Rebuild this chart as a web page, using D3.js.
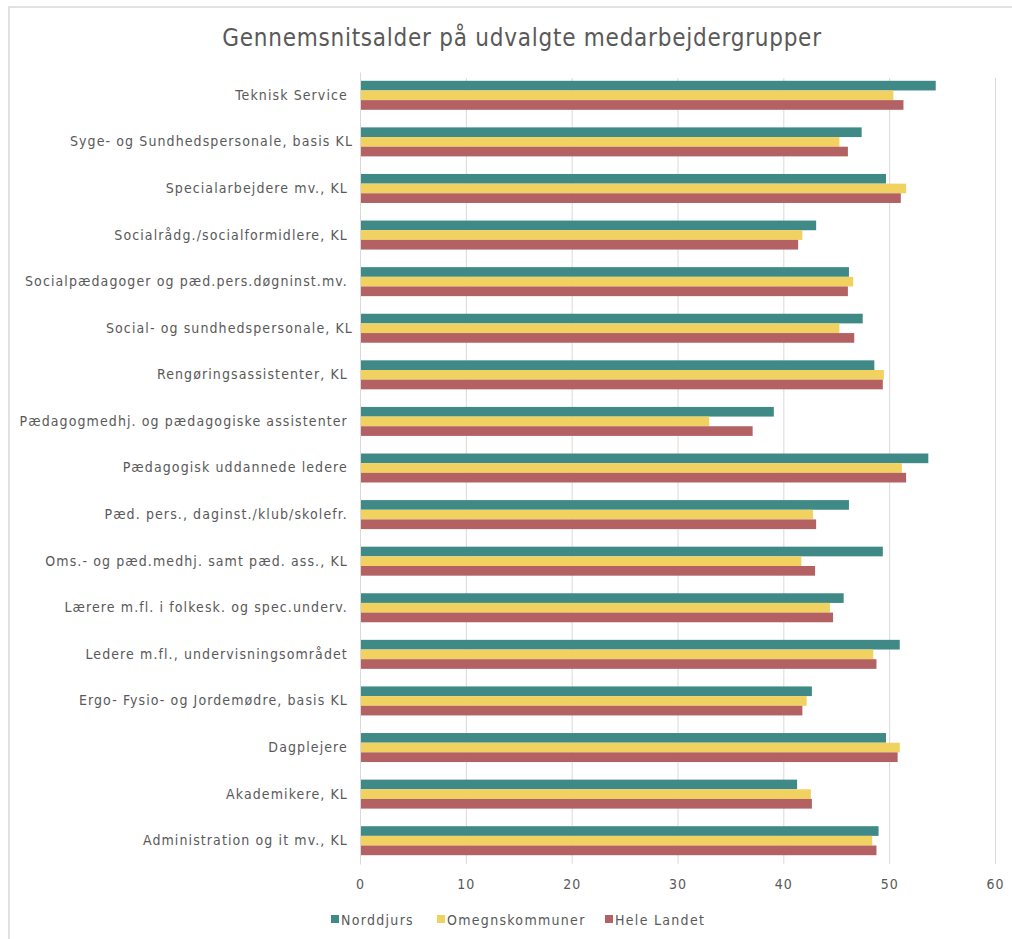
<!DOCTYPE html>
<html><head><meta charset="utf-8">
<script src="https://cdn.jsdelivr.net/npm/d3@7"></script>
<style>
html,body{margin:0;padding:0;background:#fff;}
text{font-family:"DejaVu Sans Condensed","DejaVu Sans",sans-serif;fill:#595959;white-space:pre;}
</style></head><body>
<svg id="c" width="1012" height="939"></svg>
<script>
const categories = [
 "Teknisk Service ",
 "Syge- og Sundhedspersonale, basis KL",
 "Specialarbejdere mv., KL ",
 "Socialrådg./socialformidlere, KL ",
 "Socialpædagoger og pæd.pers.døgninst.mv. ",
 "Social- og sundhedspersonale, KL",
 "Rengøringsassistenter, KL ",
 "Pædagogmedhj. og pædagogiske assistenter ",
 "Pædagogisk uddannede ledere ",
 "Pæd. pers., daginst./klub/skolefr. ",
 "Oms.- og pæd.medhj. samt pæd. ass., KL ",
 "Lærere m.fl. i folkesk. og spec.underv. ",
 "Ledere m.fl., undervisningsområdet ",
 "Ergo- Fysio- og Jordemødre, basis KL ",
 "Dagplejere ",
 "Akademikere, KL ",
 "Administration og it mv., KL "
];
const norddjurs      = [54.4,47.4,49.7,43.1,46.2,47.5,48.6,39.1,53.7,46.2,49.4,45.7,51.0,42.7,49.7,41.3,49.0];
const omegnskommuner = [50.4,45.3,51.6,41.8,46.6,45.3,49.5,33.0,51.2,42.8,41.7,44.4,48.5,42.2,51.0,42.6,48.4];
const heleLandet     = [51.35,46.1,51.1,41.4,46.1,46.7,49.4,37.1,51.6,43.1,43.0,44.7,48.8,41.8,50.8,42.7,48.8];
const seriesNames = ["Norddjurs","Omegnskommuner","Hele Landet"];
const colors = ["#3F8A87","#F1D160","#B36163"];
const xTicks = [0,10,20,30,40,50,60];
const title = "Gennemsnitsalder på udvalgte medarbejdergrupper";

const svg = d3.select("#c");
svg.append("rect").attr("x",9).attr("y",7).attr("width",1100).attr("height",1100)
  .attr("fill","none").attr("stroke","#d9d9d9").attr("stroke-width",1.5);

const L=360, R=995, T=72, B=864;
const x = d3.scaleLinear().domain([0,60]).range([L,R]);
const y = d3.scaleBand().domain(categories).range([T,B]).paddingInner(0).paddingOuter(0);
const gap = 1.82;
const barH = y.bandwidth()/(3+gap);

// gridlines
svg.append("g").selectAll("line").data(xTicks).join("line")
  .attr("x1",d=>x(d)+0.5).attr("x2",d=>x(d)+0.5).attr("y1",T+6).attr("y2",B)
  .attr("stroke","#d9d9d9").attr("stroke-width",1);

svg.append("text").attr("x",522).attr("y",46).attr("text-anchor","middle")
  .style("font-size","24px").style("letter-spacing","0.75px").text(title);

const data = [norddjurs, omegnskommuner, heleLandet];
data.forEach((vals,si)=>{
  svg.append("g").selectAll("rect").data(vals).join("rect")
    .attr("x",x(0)+1)
    .attr("y",(d,i)=>y(categories[i]) + barH*gap/2 + si*barH)
    .attr("width",d=>x(d)-x(0)-1)
    .attr("height",barH)
    .attr("fill",colors[si]);
});

// category axis
const yAxis = d3.axisLeft(y).tickSize(0).tickPadding(7);
const gy = svg.append("g").attr("transform",`translate(${L},0)`).call(yAxis);
gy.select(".domain").attr("stroke","#d9d9d9");
gy.selectAll("text").style("font-size","14px").style("font-family",null)
  .style("letter-spacing","1.1px").attr("fill","#595959");

// value axis
const xAxis = d3.axisBottom(x).tickValues(xTicks).tickSize(0).tickPadding(15);
const gx = svg.append("g").attr("transform",`translate(0,${B})`).call(xAxis);
gx.select(".domain").remove();
gx.selectAll("text").style("font-size","14px").style("font-family",null)
  .style("letter-spacing","1px").attr("fill","#595959");

// legend
const legX = [331, 437, 605];
const lg = svg.append("g");
seriesNames.forEach((n,i)=>{
  lg.append("rect").attr("x",legX[i]).attr("y",915).attr("width",8).attr("height",8).attr("fill",colors[i]);
  lg.append("text").attr("x",legX[i]+10).attr("y",925).style("font-size","14px")
    .style("letter-spacing","1.3px").text(n);
});
</script>
</body></html>
